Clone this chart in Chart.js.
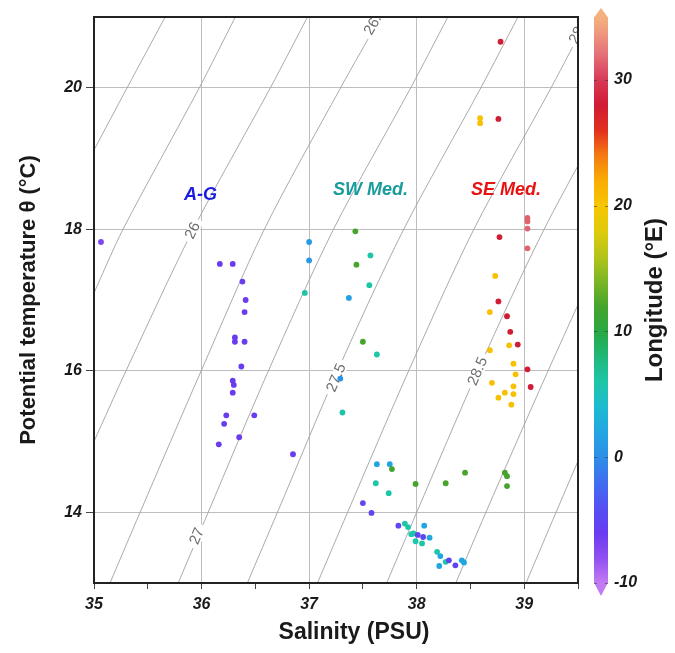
<!DOCTYPE html>
<html>
<head>
<meta charset="utf-8">
<script src="https://cdn.jsdelivr.net/npm/chart.js@4/dist/chart.umd.min.js"></script>
<style>
html,body{margin:0;padding:0;background:#ffffff;}
#wrap{width:675px;height:653px;}
</style>
</head>
<body>
<div id="wrap"><canvas id="c" width="675" height="653"></canvas></div>
<script>
// ---- station data: salinity (PSU), potential temperature (°C), longitude (°E)
const salinity = [
  35.065, 36.17, 36.29, 36.38, 36.41, 36.40, 36.31, 36.31, 36.40, 36.37,
  36.29, 36.30, 36.29, 36.23, 36.49, 36.21, 36.35, 36.16, 36.85,
  37.00, 37.00, 36.96, 37.43, 37.57, 37.44, 37.56, 37.37, 37.50, 37.63, 37.29, 37.31,
  37.63, 37.75, 37.77, 38.45, 38.82, 38.84, 38.84, 37.62, 37.99, 38.27, 37.74,
  37.50, 37.58, 37.83, 37.89, 37.92, 38.07, 37.95, 37.97, 38.01, 38.06, 38.12,
  37.99, 38.05, 38.19, 38.22, 38.27, 38.30, 38.21, 38.36, 38.42, 38.44,
  38.78, 38.59, 38.59, 38.76, 39.03, 39.03, 39.03, 38.77, 39.03, 38.73, 38.76,
  38.68, 38.84, 38.87, 38.86, 38.94, 38.68, 38.90, 39.03, 38.92, 38.70, 38.90,
  39.06, 38.82, 38.90, 38.76, 38.88
];
const theta = [
  17.82, 17.51, 17.51, 17.26, 17.00, 16.83, 16.47, 16.41, 16.41, 16.06,
  15.86, 15.80, 15.69, 15.37, 15.37, 15.25, 15.06, 14.96, 14.82,
  17.82, 17.56, 17.10, 17.97, 17.63, 17.50, 17.21, 17.03, 16.41, 16.23, 15.89, 15.41,
  14.68, 14.68, 14.61, 14.56, 14.56, 14.51, 14.37, 14.41, 14.40, 14.41, 14.27,
  14.13, 13.99, 13.81, 13.84, 13.79, 13.81, 13.69, 13.70, 13.68, 13.65, 13.64,
  13.59, 13.56, 13.44, 13.38, 13.30, 13.32, 13.24, 13.25, 13.32, 13.29,
  20.65, 19.57, 19.50, 19.56, 18.16, 18.11, 18.01, 17.89, 17.73, 17.34, 16.98,
  16.83, 16.77, 16.55, 16.36, 16.37, 16.29, 16.10, 16.02, 15.95, 15.83, 15.78,
  15.77, 15.69, 15.67, 15.62, 15.52
];
const longitude = [
  -7, -6, -6, -6, -6, -6, -6, -6, -6, -6,
  -6, -6, -6, -6, -6, -6, -6, -6, -6,
  1, 1, 6, 12, 6, 12, 6, 1.5, 12, 6, 0.5, 6,
  2, 2, 12, 12, 12, 12, 12, 6, 12, 12, 6,
  -5, -5, -5, 6, 6, 2, 6, 6, -5, -5, 2,
  6, 6, 6, 2, 6, -5, 2, -5, 2, 2,
  28, 20.5, 20.5, 28, 31.5, 31.5, 31.5, 28, 31.5, 20.5, 28,
  20.5, 28, 28, 20.5, 28, 20.5, 20.5, 28, 20.5, 20.5, 20.5,
  28, 20.5, 20.5, 20.5, 20.5
];

// ---- isopycnals (sigma-theta, kg/m3) as (S, T) vertices
const isoSigma = [25, 25.5, 26, 26.5, 27, 27.5, 28, 28.5, 29, 29.5];
const isoS = [
  [35.00, 35.308, 35.662],
  [35.00, 35.270, 35.979, 36.314],
  [35.00, 35.298, 35.923, 36.640, 36.985],
  [35.149, 35.429, 35.997, 36.584, 37.293, 37.665],
  [35.783, 36.062, 36.622, 37.227, 37.945, 38.290],
  [36.426, 36.706, 37.265, 37.880, 38.597, 38.942],
  [37.078, 37.358, 37.926, 38.532, 39.250, 39.595],
  [37.721, 38.001, 38.569, 39.185, 39.900],
  [38.364, 38.644, 39.222, 39.820],
  [39.017, 39.296, 39.860]
];
const isoT = [
  [19.12, 20, 21],
  [17.10, 18, 20, 21],
  [15.00, 16, 18, 20, 21],
  [13, 14, 16, 18, 20, 21],
  [13, 14, 16, 18, 20, 21],
  [13, 14, 16, 18, 20, 21],
  [13, 14, 16, 18, 20, 21],
  [13, 14, 16, 18, 20],
  [13, 14, 16, 18],
  [13, 14, 16]
];
const isoLabelText = ['26', '26.5', '27', '27.5', '28', '28.5'];
const isoLabelS = [35.92, 37.614, 35.96, 37.255, 39.49, 38.569];
const isoLabelT = [17.98, 20.94, 13.66, 15.90, 20.74, 15.99];

// ---- region annotations
const regionNames = ['A-G', 'SW Med.', 'SE Med.'];
const regionS = [35.99, 37.57, 38.83];
const regionT = [18.49, 18.56, 18.56];
const regionColors = ['#1c1ce0', '#1a9c9c', '#e81212'];

// ---- colour bar
const cbTicks = [-10, 0, 10, 20, 30];
const cbVals = [-10, -8, -6, -4, -2, 0, 2, 4, 6, 8, 10, 12, 14, 16, 18, 20, 22, 24, 25, 26, 28, 30, 32, 34, 35];
const cbCols = ['#c27af2', '#9050f0', '#6a3cf0', '#5450f2', '#406ef0', '#2e8ee8', '#22a6e2', '#1cbad0',
  '#1ec6a8', '#1eb878', '#28a844', '#46a42c', '#7cb624', '#b4c41a', '#e0ca0a', '#f6c600', '#f8ac04',
  '#f47a10', '#ec5418', '#e0301e', '#d01c34', '#d83a58', '#e47078', '#f09e7e', '#f4b07e'];

function hexToRgb(h) {
  return [parseInt(h.slice(1, 3), 16), parseInt(h.slice(3, 5), 16), parseInt(h.slice(5, 7), 16)];
}
function colourFor(v) {
  if (v <= cbVals[0]) return cbCols[0];
  if (v >= cbVals[cbVals.length - 1]) return cbCols[cbCols.length - 1];
  for (let i = 0; i < cbVals.length - 1; i++) {
    if (v >= cbVals[i] && v <= cbVals[i + 1]) {
      const f = (v - cbVals[i]) / (cbVals[i + 1] - cbVals[i]);
      const a = hexToRgb(cbCols[i]), b = hexToRgb(cbCols[i + 1]);
      const c = a.map((x, k) => Math.round(x + (b[k] - x) * f));
      return 'rgb(' + c.join(',') + ')';
    }
  }
  return cbCols[0];
}

const FONT = '"Liberation Sans", Arial, sans-serif';

function noPad(s) {
  s.paddingTop = 0; s.paddingBottom = 0; s.paddingLeft = 0; s.paddingRight = 0;
}

const datasets = [];
isoSigma.forEach((sg, i) => {
  datasets.push({
    type: 'line',
    label: 'sigma ' + sg,
    data: isoS[i].map((s, k) => ({x: s, y: isoT[i][k]})),
    borderColor: '#a0a0a0',
    borderWidth: 0.9,
    pointRadius: 0,
    fill: false,
    tension: 0.3,
    order: 1,
    xAxisID: 'x', yAxisID: 'y'
  });
});
datasets.push({
  type: 'scatter',
  label: 'stations',
  data: salinity.map((s, i) => ({x: s, y: theta[i]})),
  pointRadius: 2.9,
  pointBorderWidth: 0,
  pointBackgroundColor: longitude.map(colourFor),
  order: 0,
  xAxisID: 'x', yAxisID: 'y'
});

const overlay = {
  id: 'overlay',
  afterDatasetDraw(chart, args) {
    if (args.index !== 0) return;
    const {ctx, chartArea: ca} = chart;
    const xs = chart.scales.x, ys = chart.scales.y;
    ctx.save();
    ctx.beginPath();
    ctx.rect(ca.left, ca.top, ca.right - ca.left, ca.bottom - ca.top);
    ctx.clip();
    ctx.font = '15px ' + FONT;
    ctx.textAlign = 'center';
    ctx.textBaseline = 'middle';
    isoLabelText.forEach((t, i) => {
      const li = isoSigma.indexOf(parseFloat(t));
      const S = isoS[li], T = isoT[li];
      let k = 0;
      while (k < T.length - 2 && T[k + 1] < isoLabelT[i]) k++;
      const x0 = xs.getPixelForValue(S[k]), y0 = ys.getPixelForValue(T[k]);
      const x1 = xs.getPixelForValue(S[k + 1]), y1 = ys.getPixelForValue(T[k + 1]);
      const ang = Math.atan2(y1 - y0, x1 - x0);
      const px = xs.getPixelForValue(isoLabelS[i]), py = ys.getPixelForValue(isoLabelT[i]);
      const w = ctx.measureText(t).width;
      ctx.save();
      ctx.translate(px, py);
      ctx.rotate(ang);
      ctx.fillStyle = '#ffffff';
      ctx.fillRect(-w / 2 - 4, -6, w + 8, 12);
      ctx.fillStyle = '#6e6e6e';
      ctx.fillText(t, 0, 0);
      ctx.restore();
    });
    ctx.restore();
  },
  afterDatasetsDraw(chart) {
    const {ctx, chartArea: ca} = chart;
    const xs = chart.scales.x, ys = chart.scales.y;
    ctx.save();
    ctx.font = 'italic bold 18px ' + FONT;
    ctx.textAlign = 'center';
    ctx.textBaseline = 'middle';
    regionNames.forEach((n, i) => {
      ctx.fillStyle = regionColors[i];
      ctx.fillText(n, xs.getPixelForValue(regionS[i]), ys.getPixelForValue(regionT[i]));
    });
    ctx.restore();
    ctx.save();
    ctx.strokeStyle = '#222222';
    ctx.lineWidth = 2;
    ctx.strokeRect(ca.left, ca.top, ca.right - ca.left, ca.bottom - ca.top);
    ctx.restore();
  },
  afterDraw(chart) {
    const {ctx, chartArea: ca} = chart;
    const cb = chart.scales.cb;
    const bx = cb.left + 16, bw = 14;
    const yTop = cb.getPixelForValue(cbVals[cbVals.length - 1]);
    const yBot = cb.getPixelForValue(cbVals[0]);
    const g = ctx.createLinearGradient(0, yBot, 0, yTop);
    const span = cbVals[cbVals.length - 1] - cbVals[0];
    cbVals.forEach((v, i) => g.addColorStop((v - cbVals[0]) / span, cbCols[i]));
    ctx.save();
    ctx.fillStyle = g;
    ctx.fillRect(bx, yTop, bw, yBot - yTop);
    ctx.fillStyle = cbCols[cbCols.length - 1];
    ctx.beginPath();
    ctx.moveTo(bx, yTop + 0.5); ctx.lineTo(bx + bw / 2, yTop - 9); ctx.lineTo(bx + bw, yTop + 0.5);
    ctx.closePath(); ctx.fill();
    ctx.fillStyle = cbCols[0];
    ctx.beginPath();
    ctx.moveTo(bx, yBot - 0.5); ctx.lineTo(bx + bw / 2, yBot + 13); ctx.lineTo(bx + bw, yBot - 0.5);
    ctx.closePath(); ctx.fill();
    ctx.strokeStyle = 'rgba(50,50,50,0.55)';
    ctx.lineWidth = 1;
    cbTicks.forEach(v => {
      const y = Math.round(cb.getPixelForValue(v)) + 0.5;
      ctx.beginPath();
      ctx.moveTo(bx, y); ctx.lineTo(bx + 3, y);
      ctx.moveTo(bx + bw - 3, y); ctx.lineTo(bx + bw, y);
      ctx.stroke();
    });
    ctx.fillStyle = '#1a1a1a';
    ctx.font = 'bold 24px ' + FONT;
    ctx.textAlign = 'center';
    ctx.textBaseline = 'middle';
    ctx.translate(655, (ca.top + ca.bottom) / 2);
    ctx.rotate(-Math.PI / 2);
    ctx.fillText('Longitude (°E)', 0, 0);
    ctx.restore();
    ctx.save();
    ctx.fillStyle = '#1a1a1a';
    ctx.font = 'bold 23px ' + FONT;
    ctx.textAlign = 'center';
    ctx.textBaseline = 'middle';
    ctx.fillText('Salinity (PSU)', 354, 633);
    ctx.restore();
  }
};

new Chart(document.getElementById('c'), {
  data: {datasets},
  options: {
    responsive: false,
    animation: false,
    devicePixelRatio: 1,
    layout: {padding: {top: 17, left: 0, right: 0, bottom: 0}},
    plugins: {legend: {display: false}, tooltip: {enabled: false}},
    scales: {
      x: {
        type: 'linear', position: 'bottom', min: 35, max: 39.5,
        afterFit(s) { s.height = 70; noPad(s); },
        border: {display: false},
        grid: {
          color: c => (c.tick && Number.isInteger(c.tick.value)) ? '#bdbdbd' : 'rgba(0,0,0,0)',
          tickColor: '#444', tickLength: 6, lineWidth: 1
        },
        ticks: {
          stepSize: 0.5, autoSkip: false, maxRotation: 0, padding: 6,
          color: '#1a1a1a', font: {family: FONT, size: 16, weight: 'bold', style: 'italic'},
          callback: v => Number.isInteger(v) ? String(v) : ''
        }
      },
      y: {
        type: 'linear', position: 'left', min: 13, max: 21,
        afterFit(s) { s.width = 94; noPad(s); },
        border: {display: false},
        grid: {
          color: c => (c.tick && c.tick.value % 2 === 0) ? '#bdbdbd' : 'rgba(0,0,0,0)',
          tickColor: c => (c.tick && c.tick.value % 2 === 0) ? '#444' : 'rgba(0,0,0,0)',
          tickLength: 8, lineWidth: 1
        },
        ticks: {
          stepSize: 1, padding: 4, autoSkip: false,
          color: '#1a1a1a', font: {family: FONT, size: 16, weight: 'bold', style: 'italic'},
          callback: v => (v % 2 === 0) ? String(v) : ''
        },
        title: {
          display: true, text: 'Potential temperature θ (°C)', color: '#1a1a1a',
          font: {family: FONT, size: 22, weight: 'bold'}, padding: {top: 16, bottom: 0}
        }
      },
      cb: {
        type: 'linear', position: 'right', min: -10, max: 35,
        afterFit(s) { s.width = 97; noPad(s); },
        afterBuildTicks(s) { s.ticks = cbTicks.map(v => ({value: v})); },
        border: {display: false},
        grid: {display: false, drawTicks: false},
        ticks: {
          padding: 36, color: '#1a1a1a',
          font: {family: FONT, size: 16, weight: 'bold', style: 'italic'}
        }
      }
    }
  },
  plugins: [overlay]
});
</script>
</body>
</html>
